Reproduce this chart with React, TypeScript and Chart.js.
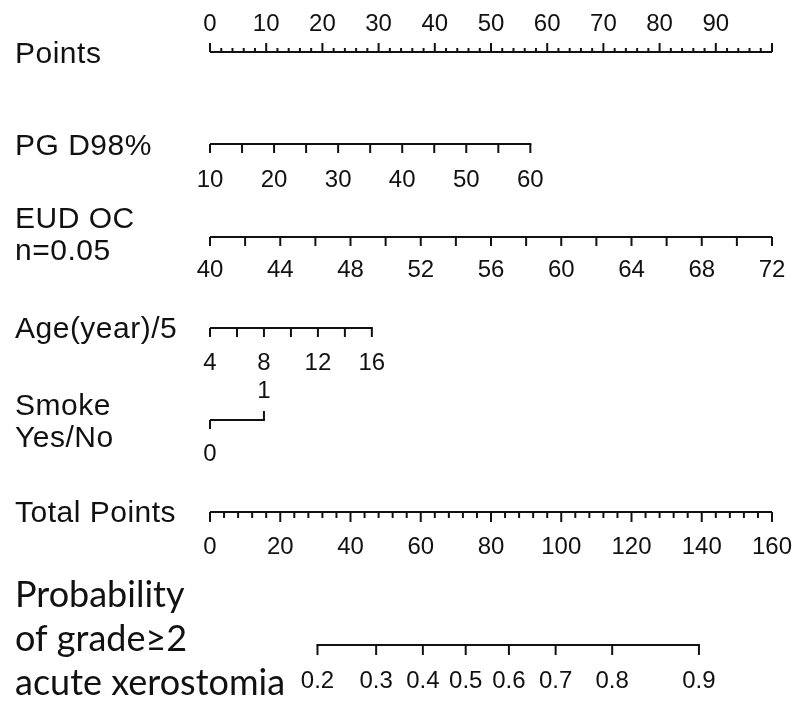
import React, { useEffect, useRef } from "react";
import { Chart, registerables } from "chart.js";

Chart.register(...registerables);

// ---- Data ----
const pointsTicks = [0, 2, 4, 6, 8, 10, 12, 14, 16, 18, 20, 22, 24, 26, 28, 30, 32, 34, 36, 38, 40, 42, 44, 46, 48, 50, 52, 54, 56, 58, 60, 62, 64, 66, 68, 70, 72, 74, 76, 78, 80, 82, 84, 86, 88, 90, 92, 94, 96, 98, 100];
const pointsMajor = [0, 10, 20, 30, 40, 50, 60, 70, 80, 90, 100];
const pointsLabels = [0, 10, 20, 30, 40, 50, 60, 70, 80, 90];

const pgTicks = [10, 15, 20, 25, 30, 35, 40, 45, 50, 55, 60];
const pgLabels = [10, 20, 30, 40, 50, 60];
const pgRange = [10, 60];
const pgPoints = [0, 57];

const eudTicks = [40, 42, 44, 46, 48, 50, 52, 54, 56, 58, 60, 62, 64, 66, 68, 70, 72];
const eudLabels = [40, 44, 48, 52, 56, 60, 64, 68, 72];
const eudRange = [40, 72];
const eudPoints = [0, 100];

const ageTicks = [4, 6, 8, 10, 12, 14, 16];
const ageLabels = [4, 8, 12, 16];
const ageRange = [4, 16];
const agePoints = [0, 28.8];

const smokeValues = [0, 1];
const smokePoints = [0, 9.6];

const totalTicks = [0, 4, 8, 12, 16, 20, 24, 28, 32, 36, 40, 44, 48, 52, 56, 60, 64, 68, 72, 76, 80, 84, 88, 92, 96, 100, 104, 108, 112, 116, 120, 124, 128, 132, 136, 140, 144, 148, 152, 156, 160];
const totalLabels = [0, 20, 40, 60, 80, 100, 120, 140, 160];
const totalRange = [0, 160];
const totalPointsRange = [0, 100];

const probValues = [0.2, 0.3, 0.4, 0.5, 0.6, 0.7, 0.8, 0.9];
const probTotalPoints = [30.6, 47.3, 60.6, 72.8, 85.1, 98.4, 114.5, 139.2];

const lin = (r: number[], p: number[]) => (v: number) => p[0] + ((v - r[0]) / (r[1] - r[0])) * (p[1] - p[0]);
const mapPoints = (v: number) => v;
const mapPg = lin(pgRange, pgPoints);
const mapEud = lin(eudRange, eudPoints);
const mapAge = lin(ageRange, agePoints);
const mapSmoke = lin([0, 1], smokePoints);
const mapTotal = lin(totalRange, totalPointsRange);

// ---- Layout ----
const TICK_FONT = '24px "Liberation Sans", Arial, sans-serif';
const LABEL_FONT = '30px "Liberation Sans", Arial, sans-serif';
const PROB_FONT = '36px Lato, "Open Sans", sans-serif';

type Row = {
  map: (v: number) => number;
  ticks: number[];
  major?: number[];
  labels: number[];
  lineY: number;
  dir: number;
  majorLen: number;
  minorLen: number;
  labelBase: number;
};

const rows: Row[] = [
  { map: mapPoints, ticks: pointsTicks, major: pointsMajor, labels: pointsLabels, lineY: 52, dir: -1, majorLen: 9, minorLen: 4, labelBase: 31 },
  { map: mapPg, ticks: pgTicks, labels: pgLabels, lineY: 144, dir: 1, majorLen: 9, minorLen: 9, labelBase: 187 },
  { map: mapEud, ticks: eudTicks, labels: eudLabels, lineY: 237, dir: 1, majorLen: 9, minorLen: 9, labelBase: 277 },
  { map: mapAge, ticks: ageTicks, labels: ageLabels, lineY: 328, dir: 1, majorLen: 9, minorLen: 9, labelBase: 370 },
  { map: mapTotal, ticks: totalTicks, major: totalLabels, labels: totalLabels, lineY: 512, dir: 1, majorLen: 10, minorLen: 6, labelBase: 554 },
];

const smokeRow = { lineY: 420, len: 9, base0: 461, base1: 398 };
const probRow = { lineY: 645, len: 10, labelBase: 688 };

const leftLabels = [
  { text: "Points", y: 63, font: LABEL_FONT },
  { text: "PG D98%", y: 155, font: LABEL_FONT },
  { text: "EUD OC", y: 228, font: LABEL_FONT },
  { text: "n=0.05", y: 260, font: LABEL_FONT },
  { text: "Age(year)/5", y: 338, font: LABEL_FONT },
  { text: "Smoke", y: 415, font: LABEL_FONT },
  { text: "Yes/No", y: 447, font: LABEL_FONT },
  { text: "Total Points", y: 522, font: LABEL_FONT },
  { text: "Probability", y: 607, font: PROB_FONT },
  { text: "of grade\u22652", y: 651, font: PROB_FONT },
  { text: "acute xerostomia", y: 695, font: PROB_FONT },
];

const nomogramPlugin = {
  id: "nomogram",
  afterDatasetsDraw(chart: any) {
    const ctx = chart.ctx as CanvasRenderingContext2D;
    const xs = chart.scales.x;
    const ys = chart.scales.y;
    const px = (pts: number) => xs.getPixelForValue(pts);
    const py = (v: number) => ys.getPixelForValue(v);
    ctx.save();
    ctx.strokeStyle = "#111";
    ctx.fillStyle = "#111";
    ctx.lineWidth = 2;
    ctx.lineCap = "butt";

    const tick = (x: number, y: number, len: number) => {
      ctx.beginPath();
      ctx.moveTo(x, y);
      ctx.lineTo(x, y + len);
      ctx.stroke();
    };

    ctx.textAlign = "center";
    ctx.textBaseline = "alphabetic";
    ctx.font = TICK_FONT;

    for (const r of rows) {
      const y = py(r.lineY);
      for (const t of r.ticks) {
        const isMajor = r.major ? r.major.includes(t) : true;
        tick(px(r.map(t)), y, r.dir * (isMajor ? r.majorLen : r.minorLen));
      }
      for (const l of r.labels) {
        ctx.fillText(String(l), px(r.map(l)), py(r.labelBase));
      }
    }

    // Smoke
    const sy = py(smokeRow.lineY);
    tick(px(mapSmoke(smokeValues[0])), sy, smokeRow.len);
    tick(px(mapSmoke(smokeValues[1])), sy, -smokeRow.len);
    ctx.fillText(String(smokeValues[0]), px(mapSmoke(smokeValues[0])), py(smokeRow.base0));
    ctx.fillText(String(smokeValues[1]), px(mapSmoke(smokeValues[1])), py(smokeRow.base1));

    // Probability
    const ppy = py(probRow.lineY);
    probValues.forEach((v, i) => {
      const x = px(mapTotal(probTotalPoints[i]));
      tick(x, ppy, probRow.len);
      ctx.fillText(v.toFixed(1), x, py(probRow.labelBase));
    });

    // Left labels
    ctx.textAlign = "left";
    for (const l of leftLabels) {
      ctx.font = l.font;
      (ctx as any).letterSpacing = l.font === LABEL_FONT ? "0.5px" : "0px";
      ctx.fillText(l.text, 15, py(l.y));
    }
    (ctx as any).letterSpacing = "0px";
    ctx.restore();
  },
};

export default function App() {
  const ref = useRef<HTMLCanvasElement | null>(null);
  useEffect(() => {
    if (!ref.current) return;
    const axisLine = (x0: number, x1: number, y: number) => ({
      type: "line" as const,
      data: [{ x: x0, y }, { x: x1, y }],
      borderColor: "#111",
      borderWidth: 2,
      borderCapStyle: "square" as const,
      pointRadius: 0,
      showLine: true,
      fill: false,
    });
    const datasets: any[] = [
      ...rows.map((r) => axisLine(r.map(r.ticks[0]), r.map(r.ticks[r.ticks.length - 1]), r.lineY)),
      axisLine(mapSmoke(smokeValues[0]), mapSmoke(smokeValues[1]), smokeRow.lineY),
      axisLine(mapTotal(probTotalPoints[0]), mapTotal(probTotalPoints[probTotalPoints.length - 1]), probRow.lineY),
    ];
    const chart = new Chart(ref.current, {
      type: "scatter",
      data: { datasets },
      options: {
        animation: false,
        responsive: false,
        maintainAspectRatio: false,
        layout: { padding: { left: 210, right: 24, top: 0, bottom: 0 } },
        plugins: { legend: { display: false }, tooltip: { enabled: false } },
        scales: {
          x: { type: "linear", display: false, min: 0, max: 100 },
          y: { type: "linear", display: false, min: 0, max: 701, reverse: true },
        },
      },
      plugins: [nomogramPlugin],
    });
    return () => chart.destroy();
  }, []);
  return (
    <div style={{ position: "absolute", left: 0, top: 0, width: 796, height: 701, background: "#fff" }}>
      <canvas ref={ref} width={796} height={701} style={{ display: "block" }} />
    </div>
  );
}
